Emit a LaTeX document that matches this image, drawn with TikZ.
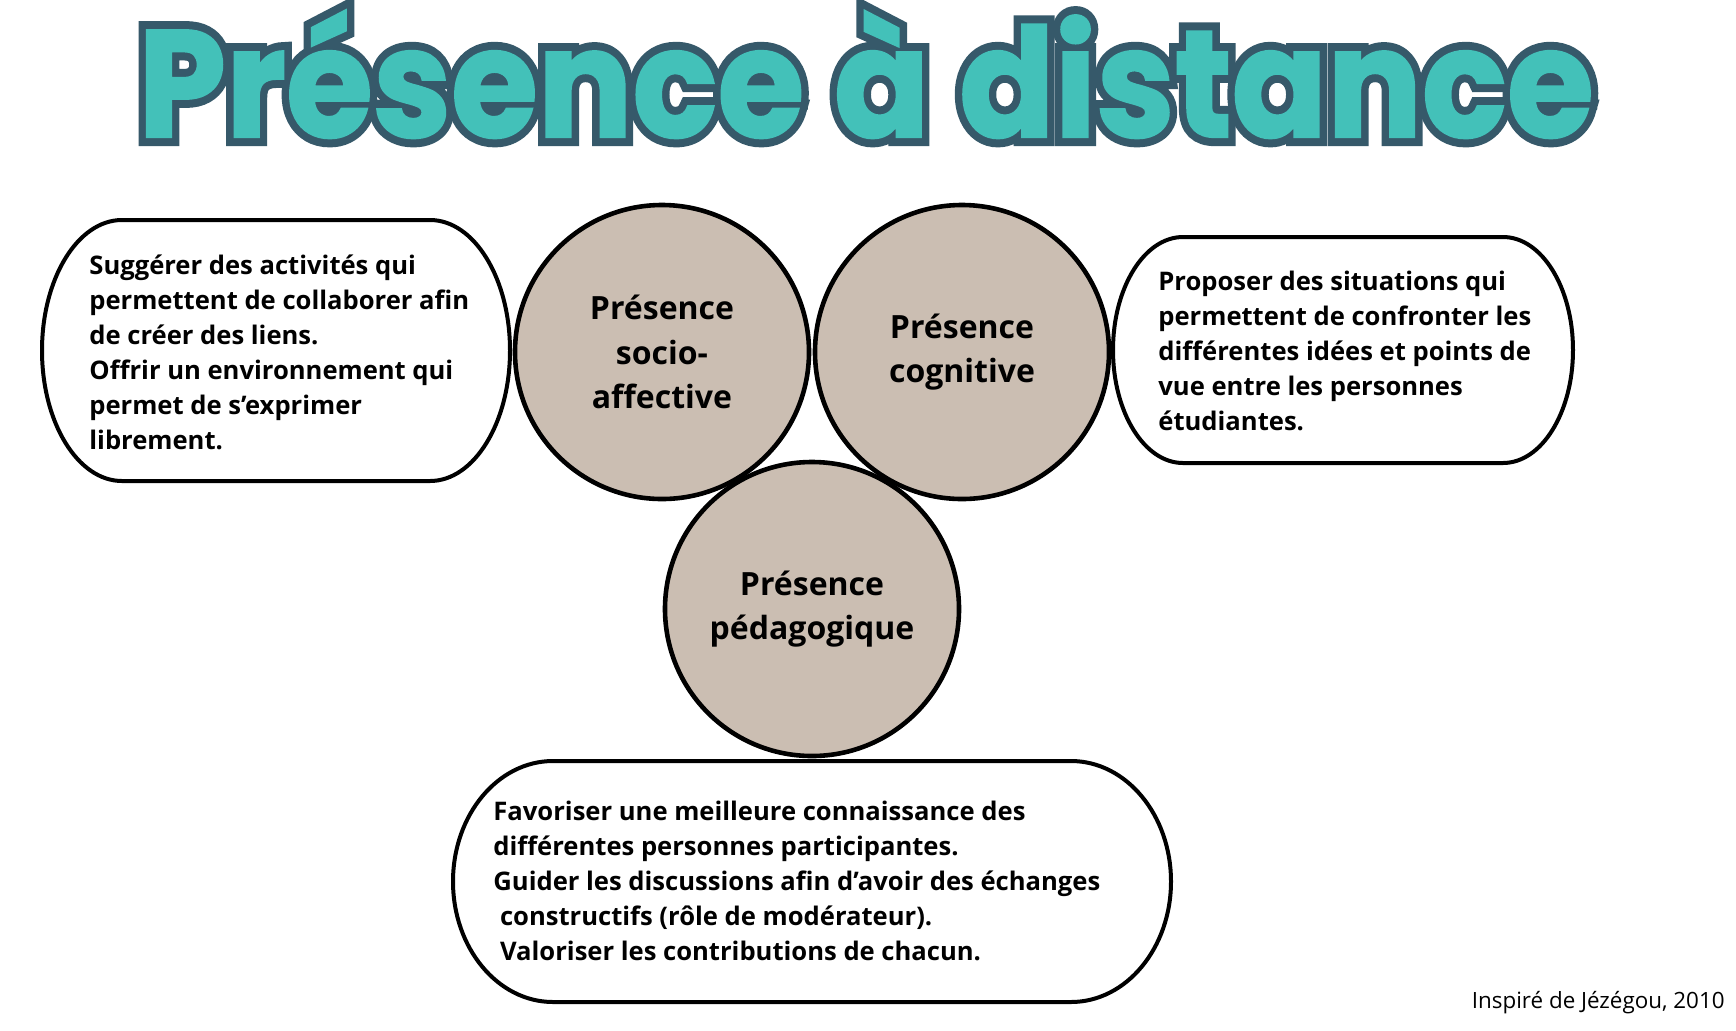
\documentclass[tikz,border=0pt]{standalone}
\usepackage{fontspec}
\setmainfont{Open Sans}
\newfontfamily\titlefont{Poppins}[BoldFeatures={FakeBold=1.5}]
\newfontfamily\titleedge{Poppins}[BoldFeatures={FakeBold=12}]
\usetikzlibrary{calc}
\definecolor{titlefill}{HTML}{43C1B9}
\definecolor{titleline}{HTML}{36596A}
\definecolor{circlefill}{HTML}{CBBEB2}
\tikzset{
  titletext/.style={font=\titlefont\bfseries\fontsize{76}{76}\selectfont, text=titlefill,
    anchor=base, inner sep=0pt, xscale=0.925, transform shape},
  presence/.style={circle, draw, line width=2.3pt, fill=circlefill, minimum size=147pt,
    inner sep=0pt, align=center, font=\bfseries\fontsize{16}{22.3}\selectfont},
  bodytext/.style={anchor=west, inner sep=0pt, align=left,
    font=\bfseries\fontsize{12.8}{17.5}\selectfont}
}
% bubble: centre x, centre y, half width, half height, side radius
\def\drawBubble#1#2#3#4#5{
\draw[line width=2pt] (#1-#3+#5,#2+#4) -- (#1+#3-#5,#2+#4)
  arc[start angle=90, end angle=-90, x radius=#5, y radius=#4]
  -- (#1-#3+#5,#2-#4)
  arc[start angle=270, end angle=90, x radius=#5, y radius=#4] -- cycle;
}
\begin{document}
\begin{tikzpicture}[x=0.5pt, y=0.5pt]
  \useasboundingbox[fill=white] (0,0) rectangle (1736,-1030);
  % title with outline
  \node[titletext, text=titleline, font=\titleedge\bfseries\fontsize{76}{76}\selectfont]
    (titleEdge) at (866,-137) {Présence à distance};
  \node[titletext] (title) at (866,-137) {Présence à distance};
  % bubbles
  \drawBubble{276}{-350.5}{234}{130.5}{80}
  \drawBubble{1343}{-350}{230}{113}{70}
  \drawBubble{812}{-881.5}{359}{120.5}{100}
  \node[bodytext] (socioText) at (89,-352) {Suggérer des activités qui\\
    permettent de collaborer afin\\ de créer des liens.\\ Offrir un environnement qui\\
    permet de s’exprimer\\ librement.};
  \node[bodytext] (cogText) at (1158,-350.5) {Proposer des situations qui\\
    permettent de confronter les\\ différentes idées et points de\\
    vue entre les personnes\\ étudiantes.};
  \node[bodytext] (pedaText) at (493,-880.5) {Favoriser une meilleure connaissance des\\
    différentes personnes participantes.\\
    Guider les discussions afin d’avoir des échanges\\
    \hspace*{0.26em}constructifs (rôle de modérateur).\\
    \hspace*{0.26em}Valoriser les contributions de chacun.};
  % the three presences
  \node[presence] (socio) at (662,-352) {Présence\\ socio-\\ affective};
  \node[presence] (cognitive) at (962,-352) {Présence\\ cognitive};
  \node[presence] (pedago) at (812,-609) {Présence\\ pédagogique};
  \node[anchor=base east, inner sep=0pt, font=\fontsize{11.2}{13}\selectfont] (source)
    at (1725,-1008) {Inspiré de Jézégou, 2010};
\end{tikzpicture}
\end{document}
